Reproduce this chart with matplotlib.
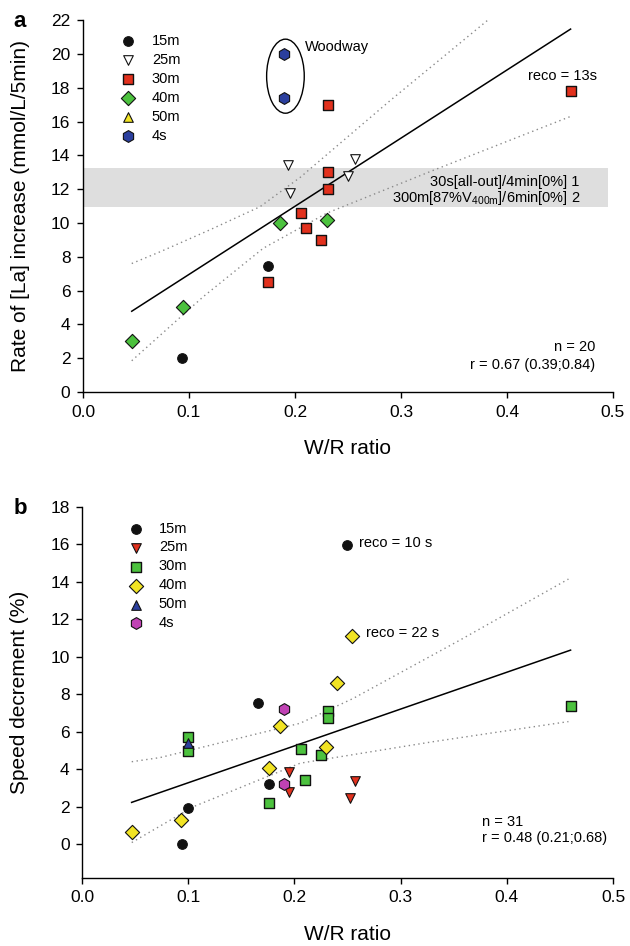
import numpy as np
import matplotlib
matplotlib.use('Agg')
import matplotlib.pyplot as plt
from matplotlib.patches import Ellipse

plt.rcParams['font.family'] = ['Liberation Sans', 'DejaVu Sans']

# ---------------- data, panel a ----------------
a_15m_x = [0.093, 0.175]
a_15m_y = [2.0, 7.45]
a_25m_x = [0.193, 0.195, 0.257, 0.250]
a_25m_y = [13.4, 11.8, 13.8, 12.8]
a_30m_x = [0.175, 0.206, 0.210, 0.225, 0.231, 0.231, 0.231, 0.460]
a_30m_y = [6.5, 10.6, 9.7, 9.0, 12.0, 13.0, 17.0, 17.8]
a_40m_x = [0.046, 0.094, 0.186, 0.230]
a_40m_y = [3.0, 5.0, 10.0, 10.2]
a_50m_x = []
a_50m_y = []
a_4s_x = [0.190, 0.190]
a_4s_y = [20.0, 17.4]

# confidence band
a_up_x = [0.046, 0.073, 0.120, 0.167, 0.205, 0.290, 0.382]
a_up_y = [7.6, 8.3, 9.6, 10.96, 12.7, 17.25, 22.0]
a_lo_x = [0.046, 0.1135, 0.170, 0.230, 0.330, 0.460]
a_lo_y = [1.85, 5.64, 8.5, 10.58, 13.1, 16.3]

# ---------------- data, panel b ----------------
b_15m_x = [0.2495, 0.166, 0.176, 0.0995, 0.094]
b_15m_y = [15.94, 7.52, 3.21, 1.95, 0.03]
b_25m_x = [0.195, 0.195, 0.257, 0.252]
b_25m_y = [3.87, 2.77, 3.37, 2.48]
b_30m_x = [0.100, 0.100, 0.176, 0.2065, 0.210, 0.225, 0.232, 0.232, 0.460]
b_30m_y = [5.70, 4.97, 2.20, 5.08, 3.41, 4.78, 7.10, 6.72, 7.39]
b_40m_x = [0.0467, 0.0932, 0.176, 0.1864, 0.2295, 0.2398, 0.2542]
b_40m_y = [0.66, 1.31, 4.08, 6.32, 5.20, 8.58, 11.10]
b_50m_x = [0.100]
b_50m_y = [5.38]
b_4s_x = [0.190, 0.190]
b_4s_y = [7.20, 3.20]

b_up_x = [0.0468, 0.0734, 0.2053, 0.2555, 0.356, 0.458]
b_up_y = [4.40, 4.62, 6.45, 7.78, 10.89, 14.14]
b_lo_x = [0.0468, 0.1048, 0.2053, 0.3308, 0.458]
b_lo_y = [0.09, 2.0, 4.32, 5.47, 6.54]

labels = ['15m', '25m', '30m', '40m', '50m', '4s']

black = '#111111'
red = '#e2311d'
green = '#4cc23e'
yellow = '#f2e424'
blue = '#2b3f9e'
magenta = '#c042b4'

tickfs = 12.5
labelfs = 15
small = 10.5
dotted = dict(color='#8a8a8a', lw=1, ls=(0, (1, 2.5)), zorder=2)


def fit_line(xs, ys):
    xs = np.asarray(xs)
    ys = np.asarray(ys)
    slope, icpt = np.polyfit(xs, ys, 1)
    xx = np.array([xs.min(), xs.max()])
    return xx, slope*xx + icpt


def style_axes(ax, ymin, ymax, yticks):
    ax.spines['top'].set_visible(False)
    ax.spines['right'].set_visible(False)
    ax.set_xlim(0, 0.5)
    ax.set_ylim(ymin, ymax)
    ax.set_xticks(np.arange(0, 0.51, 0.1))
    ax.set_xticklabels(['%.1f' % v for v in np.arange(0, 0.51, 0.1)])
    ax.set_yticks(yticks)
    ax.tick_params(direction='out', length=4, width=1, labelsize=tickfs, pad=5)
    for sp in ['left', 'bottom']:
        ax.spines[sp].set_linewidth(1)
    ax.set_xlabel('W/R ratio', fontsize=labelfs, labelpad=14)


def groups(ax, xs, ys, colors):
    ms = 48
    ax.scatter(xs[0], ys[0], s=ms, marker='o', c=colors[0], edgecolors=black, lw=0.8, zorder=3, label=labels[0])
    ax.scatter(xs[1], ys[1], s=ms, marker='v', c=colors[1], edgecolors=black, lw=0.8, zorder=3, label=labels[1])
    ax.scatter(xs[2], ys[2], s=ms*0.9, marker='s', c=colors[2], edgecolors=black, lw=1, zorder=3, label=labels[2])
    ax.scatter(xs[3], ys[3], s=ms*1.1, marker='D', c=colors[3], edgecolors=black, lw=0.8, zorder=3, label=labels[3])
    ax.scatter(xs[4], ys[4], s=ms, marker='^', c=colors[4], edgecolors=black, lw=0.8, zorder=3, label=labels[4])
    ax.scatter(xs[5], ys[5], s=ms*1.5, marker='h', c=colors[5], edgecolors=black, lw=0.8, zorder=3, label=labels[5])


fig = plt.figure(figsize=(6.3, 9.46), dpi=100)

# =====================================
# Panel a
# =====================================
ax = fig.add_axes([0.1317, 0.5856, 0.8413, 0.3932])
style_axes(ax, 0, 22, np.arange(0, 23, 2))
ax.set_ylabel('Rate of [La] increase (mmol/L/5min)', fontsize=labelfs, labelpad=15)

ax.axhspan(10.93, 13.27, xmin=0, xmax=0.99, color='#dedede', lw=0, zorder=0)

xs_a = [a_15m_x, a_25m_x, a_30m_x, a_40m_x, a_50m_x, a_4s_x]
ys_a = [a_15m_y, a_25m_y, a_30m_y, a_40m_y, a_50m_y, a_4s_y]
xx, yy = fit_line(sum(xs_a, []), sum(ys_a, []))
ax.plot(xx, yy, color='black', lw=1.1, zorder=2)
ax.plot(a_up_x, a_up_y, **dotted)
ax.plot(a_lo_x, a_lo_y, **dotted)

groups(ax, xs_a, ys_a, [black, 'white', red, green, yellow, blue])

ax.add_patch(Ellipse((0.191, 18.68), 0.0355, 4.38, fill=False, ec='black', lw=1, zorder=3))
ax.text(0.209, 20.4, 'Woodway', fontsize=small, va='center', ha='left')
ax.text(0.452, 18.7, 'reco = 13s', fontsize=small, va='center', ha='center')
ax.text(0.468, 12.44, '30s[all-out]/4min[0%] 1', fontsize=small, va='center', ha='right')
ax.text(0.469, 11.5, '300m[87%V$_{\\mathregular{400m}}$]/6min[0%] 2', fontsize=small, va='center', ha='right')
ax.text(0.483, 2.64, 'n = 20', fontsize=small, va='center', ha='right')
ax.text(0.483, 1.6, 'r = 0.67 (0.39;0.84)', fontsize=small, va='center', ha='right')

ax.legend(loc='upper left', bbox_to_anchor=(0.072, 0.962), frameon=False, fontsize=small,
          scatterpoints=1, handlelength=1.0, handletextpad=1.1, labelspacing=0.34,
          borderaxespad=0, borderpad=0)
fig.text(0.022, 0.977, 'a', fontsize=16, fontweight='bold', va='center')

# =====================================
# Panel b
# =====================================
bx = fig.add_axes([0.1302, 0.0719, 0.8429, 0.3925])
style_axes(bx, -1.8, 18, np.arange(0, 19, 2))
bx.set_ylabel('Speed decrement (%)', fontsize=labelfs, labelpad=15)

xs_b = [b_15m_x, b_25m_x, b_30m_x, b_40m_x, b_50m_x, b_4s_x]
ys_b = [b_15m_y, b_25m_y, b_30m_y, b_40m_y, b_50m_y, b_4s_y]
xx, yy = fit_line(sum(xs_b, []), sum(ys_b, []))
bx.plot(xx, yy, color='black', lw=1.1, zorder=2)
bx.plot(b_up_x, b_up_y, **dotted)
bx.plot(b_lo_x, b_lo_y, **dotted)

groups(bx, xs_b, ys_b, [black, red, green, yellow, blue, magenta])

bx.text(0.2605, 16.04, 'reco = 10 s', fontsize=small, va='center', ha='left')
bx.text(0.2677, 11.25, 'reco = 22 s', fontsize=small, va='center', ha='left')
bx.text(0.3764, 1.2, 'n = 31', fontsize=small, va='center', ha='left')
bx.text(0.3764, 0.35, 'r = 0.48 (0.21;0.68)', fontsize=small, va='center', ha='left')

bx.legend(loc='upper left', bbox_to_anchor=(0.087, 0.96), frameon=False, fontsize=small,
          scatterpoints=1, handlelength=1.0, handletextpad=1.1, labelspacing=0.34,
          borderaxespad=0, borderpad=0)
fig.text(0.022, 0.463, 'b', fontsize=16, fontweight='bold', va='center')

fig.savefig('out.png', dpi=100)
